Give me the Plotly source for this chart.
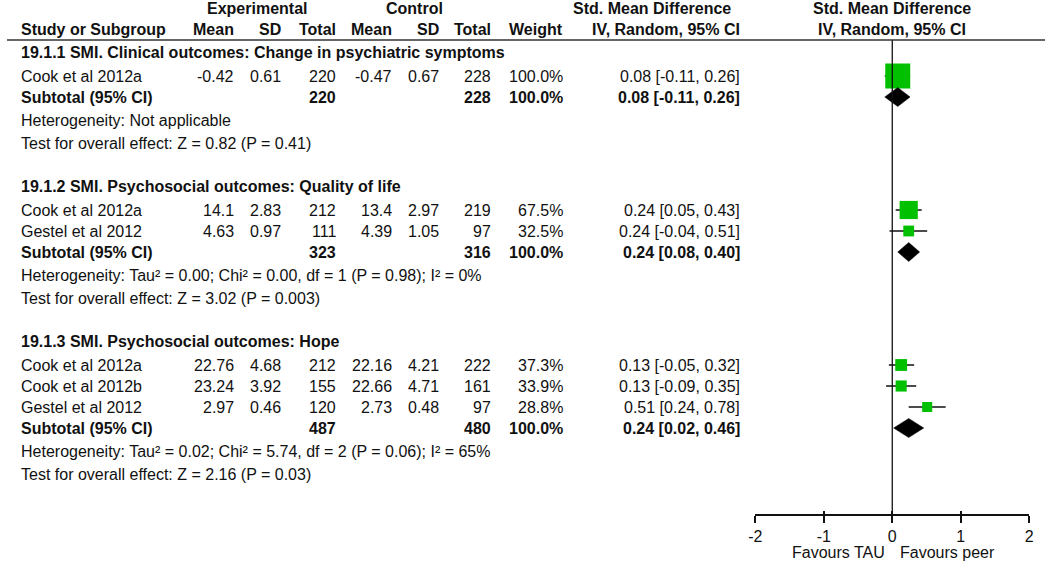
import plotly.graph_objects as go

# ---------------- data ----------------
group_titles = [
    "19.1.1 SMI. Clinical outcomes: Change in psychiatric symptoms",
    "19.1.2 SMI. Psychosocial outcomes: Quality of life",
    "19.1.3 SMI. Psychosocial outcomes: Hope",
]
study_names = ["Cook et al 2012a", "Cook et al 2012a", "Gestel et al 2012",
               "Cook et al 2012a", "Cook et al 2012b", "Gestel et al 2012"]
study_group = [0, 1, 1, 2, 2, 2]
exp_mean = [-0.42, 14.1, 4.63, 22.76, 23.24, 2.97]
exp_sd = [0.61, 2.83, 0.97, 4.68, 3.92, 0.46]
exp_n = [220, 212, 111, 212, 155, 120]
ctl_mean = [-0.47, 13.4, 4.39, 22.16, 22.66, 2.73]
ctl_sd = [0.67, 2.97, 1.05, 4.21, 4.71, 0.48]
ctl_n = [228, 219, 97, 222, 161, 97]
weight = [100.0, 67.5, 32.5, 37.3, 33.9, 28.8]
smd = [0.08, 0.24, 0.24, 0.13, 0.13, 0.51]
ci_lo = [-0.11, 0.05, -0.04, -0.05, -0.09, 0.24]
ci_hi = [0.26, 0.43, 0.51, 0.32, 0.35, 0.78]

sub_exp_n = [220, 323, 487]
sub_ctl_n = [228, 316, 480]
sub_weight = [100.0, 100.0, 100.0]
sub_smd = [0.08, 0.24, 0.24]
sub_lo = [-0.11, 0.08, 0.02]
sub_hi = [0.26, 0.40, 0.46]
heterogeneity = [
    "Heterogeneity: Not applicable",
    "Heterogeneity: Tau² = 0.00; Chi² = 0.00, df = 1 (P = 0.98); I² = 0%",
    "Heterogeneity: Tau² = 0.02; Chi² = 5.74, df = 2 (P = 0.06); I² = 65%",
]
overall_test = [
    "Test for overall effect: Z = 0.82 (P = 0.41)",
    "Test for overall effect: Z = 3.02 (P = 0.003)",
    "Test for overall effect: Z = 2.16 (P = 0.03)",
]
axis_ticks = [-2, -1, 0, 1, 2]
favours_left = "Favours TAU"
favours_right = "Favours peer"

# ---------------- layout helpers ----------------
W, H = 1050, 563
FONT = "Liberation Sans, Arial, sans-serif"
FS = 16
TXT = "#111111"
GREEN = "rgb(0,192,0)"


def px(xs):
    """screen x pixel -> paper fraction"""
    return xs / W


annotations = []


def txt(x, y, s, anchor="right", bold=False):
    annotations.append(dict(
        x=px(x), xref="paper", y=y, yref="y", text=("<b>%s</b>" % s) if bold else s,
        showarrow=False, xanchor=anchor, yanchor="middle",
        font=dict(family=FONT, size=FS, color=TXT), borderpad=0, borderwidth=0))


COL = dict(name=14, em=230, esd=277, en=333, cm=389, csd=437, cn=490, w=562, ci=741)

# header
txt(253, 8, "Experimental", "center", True)
txt(412, 8, "Control", "center", True)
txt(652, 8, "Std. Mean Difference", "center", True)
txt(895, 8, "Std. Mean Difference", "center", True)
hy = 29
txt(COL["name"], hy, "Study or Subgroup", "left", True)
for key, lab in [("em", "Mean"), ("esd", "SD"), ("en", "Total"), ("cm", "Mean"),
                 ("csd", "SD"), ("cn", "Total"), ("w", "Weight")]:
    txt(COL[key], hy, lab, "right", True)
txt(667, hy, "IV, Random, 95% CI", "center", True)
txt(895, hy, "IV, Random, 95% CI", "center", True)

# rows
study_y = [None] * len(study_names)
sub_y = []
y = 52
for g, title in enumerate(group_titles):
    txt(COL["name"], y, title, "left", True)
    y += 24
    for i in range(len(study_names)):
        if study_group[i] != g:
            continue
        study_y[i] = y
        txt(COL["name"], y, study_names[i], "left")
        txt(COL["em"], y, str(exp_mean[i]))
        txt(COL["esd"], y, str(exp_sd[i]))
        txt(COL["en"], y, str(exp_n[i]))
        txt(COL["cm"], y, str(ctl_mean[i]))
        txt(COL["csd"], y, str(ctl_sd[i]))
        txt(COL["cn"], y, str(ctl_n[i]))
        txt(COL["w"], y, "%.1f%%" % weight[i])
        txt(COL["ci"], y, "%.2f [%.2f, %.2f]" % (smd[i], ci_lo[i], ci_hi[i]))
        y += 21
    sub_y.append(y)
    txt(COL["name"], y, "Subtotal (95% CI)", "left", True)
    txt(COL["en"], y, str(sub_exp_n[g]), "right", True)
    txt(COL["cn"], y, str(sub_ctl_n[g]), "right", True)
    txt(COL["w"], y, "%.1f%%" % sub_weight[g], "right", True)
    txt(COL["ci"], y, "%.2f [%.2f, %.2f]" % (sub_smd[g], sub_lo[g], sub_hi[g]), "right", True)
    y += 23
    txt(COL["name"], y, heterogeneity[g], "left")
    y += 23
    txt(COL["name"], y, overall_test[g], "left")
    y += 43

AXIS_Y = 515
txt(888, 552, favours_left, "right")
txt(903, 552, favours_right, "left")

fig = go.Figure()

# line of no effect (on the secondary axis so that axis is drawn)
fig.add_trace(go.Scatter(x=[0, 0], y=[40, AXIS_Y], xaxis="x2", yaxis="y", mode="lines",
                         line=dict(color="#111111", width=1.3), hoverinfo="skip"))

# confidence-interval whiskers (beneath the squares)
wx, wy = [], []
for m, lo, hi, yy in zip(smd, ci_lo, ci_hi, study_y):
    wx += [lo, hi, None]
    wy += [yy, yy, None]
fig.add_trace(go.Scatter(x=wx, y=wy, mode="lines", line=dict(color="#111111", width=1.5),
                         hoverinfo="skip"))

# study estimates, square size grows with weight
fig.add_trace(go.Scatter(
    x=smd, y=study_y, mode="markers", opacity=1,
    marker=dict(symbol="square", color=GREEN, opacity=1,
                size=[4 + 21 * w / 100 for w in weight], line=dict(width=0)),
    hoverinfo="skip"))

# subtotal diamonds
HALF = 9.5
for g in range(len(group_titles)):
    fig.add_trace(go.Scatter(
        x=[sub_lo[g], sub_smd[g], sub_hi[g], sub_smd[g], sub_lo[g]],
        y=[sub_y[g], sub_y[g] - HALF, sub_y[g], sub_y[g] + HALF, sub_y[g]],
        mode="lines", fill="toself", fillcolor="#000000",
        line=dict(color="#000000", width=0.5), hoverinfo="skip"))

dom = [px(757), px(1034)]
pos = (H - AXIS_Y) / H
fig.update_layout(
    width=W, height=H, margin=dict(l=0, r=0, t=0, b=0),
    paper_bgcolor="white", plot_bgcolor="white", showlegend=False,
    annotations=annotations,
    shapes=[dict(type="line", xref="paper", yref="y", x0=0, x1=1, y0=40, y1=40,
                 line=dict(color="#333333", width=1.6))],
    xaxis=dict(domain=dom, range=[-2, 2], anchor="free", position=pos,
               tickvals=axis_ticks, ticktext=[str(t) for t in axis_ticks],
               ticks="outside", ticklen=7, tickwidth=1.5, tickcolor="#111111",
               showline=True, linewidth=1.5, linecolor="#111111",
               showgrid=False, zeroline=False,
               tickfont=dict(family=FONT, size=FS, color=TXT)),
    xaxis2=dict(domain=dom, range=[-2, 2], anchor="free", position=pos, overlaying="x",
                tickvals=axis_ticks, ticks="inside", ticklen=4, tickwidth=1.5,
                tickcolor="#111111", showticklabels=False, showline=False,
                showgrid=False, zeroline=False),
    yaxis=dict(domain=[0, 1], range=[H, 0], visible=False,
               showgrid=False, zeroline=False),
)

fig.write_html("out.html", config={"displayModeBar": False},
               post_script="document.body.style.margin='0px';")
